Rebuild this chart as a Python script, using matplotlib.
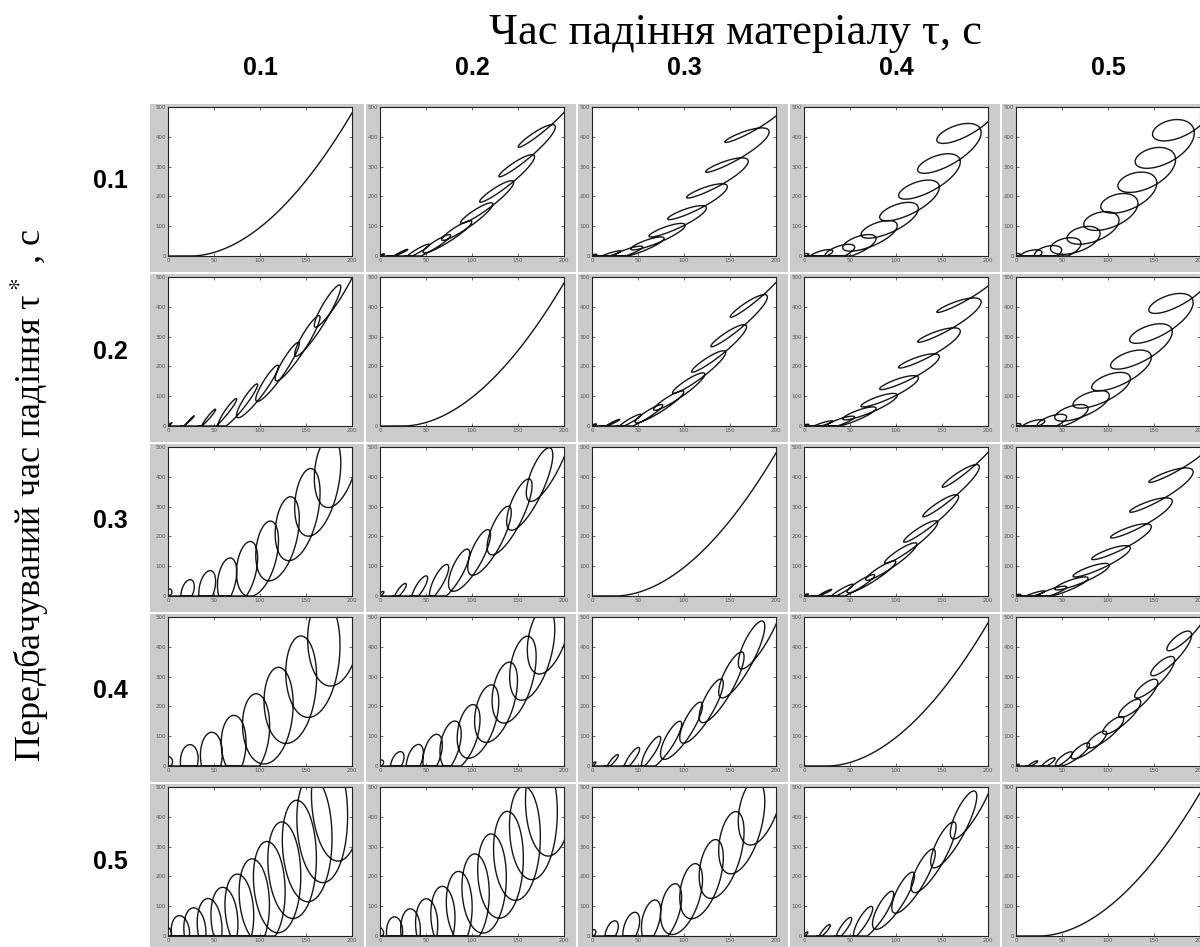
import numpy as np
import matplotlib.pyplot as plt
from matplotlib.patches import Rectangle

# columns: τ (time of fall), rows: τ* (predicted time of fall)
fall_time = ["0.1", "0.2", "0.3", "0.4", "0.5"]
pred_time = ["0.1", "0.2", "0.3", "0.4", "0.5"]

x_ticks = [0, 50, 100, 150, 200]
y_ticks = [0, 100, 200, 300, 400, 500]

# base curve
x_start = 25      # curve leaves y=0 here
y_end = 480       # height reached at x=200
curve_power = 1.9

# loops per panel (row = τ*, col = τ)
n_loops = [
    [0, 9, 9, 9, 10],
    [9, 0, 9, 9, 9],
    [9, 9, 0, 9, 9],
    [8, 10, 9, 0, 11],
    [12, 11, 9, 9, 0],
]
# loop half-width along x and half-height along y at the end of the run,
# as a fraction of the axis range
loop_dx = [
    [0.00, 0.13, 0.15, 0.15, 0.14],
    [0.10, 0.00, 0.13, 0.15, 0.15],
    [0.10, 0.10, 0.00, 0.13, 0.15],
    [0.12, 0.10, 0.10, 0.00, 0.09],
    [0.12, 0.11, 0.10, 0.10, 0.00],
]
loop_dy = [
    [0.00, 0.13, 0.10, 0.12, 0.12],
    [0.20, 0.00, 0.13, 0.10, 0.12],
    [0.30, 0.24, 0.00, 0.13, 0.10],
    [0.36, 0.28, 0.22, 0.00, 0.11],
    [0.42, 0.38, 0.28, 0.22, 0.00],
]
# phase lag of the y swing behind the x swing, degrees
loop_phase = [
    [0, 22, 30, 50, 65],
    [22, 0, 22, 30, 50],
    [70, 40, 0, 22, 30],
    [85, 65, 35, 0, 35],
    [95, 90, 65, 35, 0],
]

W, H = 1200, 947
fig = plt.figure(figsize=(W / 100, H / 100), dpi=100)
plt.rcParams["mathtext.fontset"] = "stix"


def px_axes(left, top, w, h):
    return [left / W, 1 - (top + h) / H, w / W, h / H]


def trajectory(n, dx, dy, phase):
    s = np.linspace(0, 1, 5000)
    u = np.clip((200 * s - x_start) / (200 - x_start), 0, None)
    base_y = y_end * u ** curve_power
    th = 2 * np.pi * n * s
    x = 200 * (s + dx * s ** 0.25 * (np.cos(th) - 0.5))
    y = base_y + 500 * dy * s ** 0.5 * np.cos(th - np.deg2rad(phase))
    return x, np.maximum(y, 0)


cell_w, cell_h = 184, 149
for i in range(5):
    for j in range(5):
        left = 168 + 212 * j
        top = 107 + 170 * i
        gl = left - (18 if j == 0 else 14)
        fig.patches.append(Rectangle(
            (gl / W, 1 - (top + cell_h + 16) / H),
            (left + cell_w + 12 - gl) / W, (cell_h + 19) / H,
            transform=fig.transFigure, facecolor="#cbcbcb",
            edgecolor="none", zorder=-5))
        ax = fig.add_axes(px_axes(left, top, cell_w, cell_h))
        ax.set_zorder(2)
        x, y = trajectory(n_loops[i][j], loop_dx[i][j],
                          loop_dy[i][j], loop_phase[i][j])
        ax.plot(x, y, color="#151515", lw=1.0)
        ax.set_xlim(0, 200)
        ax.set_ylim(0, 500)
        ax.set_xticks(x_ticks)
        ax.set_yticks(y_ticks)
        ax.tick_params(direction="in", length=2.5, width=0.6, top=True,
                       right=True, labelsize=4, pad=1.5, colors="#555555")
        for sp in ax.spines.values():
            sp.set_linewidth(0.8)
            sp.set_color("#222222")

for j, lab in enumerate(fall_time):
    fig.text((168 + 212 * j + cell_w / 2) / W, 1 - 68 / H, lab,
             ha="center", va="center", fontsize=18, fontweight="bold",
             family="Liberation Sans")
for i, lab in enumerate(pred_time):
    fig.text(110 / W, 1 - (107 + 170 * i + cell_h / 2) / H, lab,
             ha="center", va="center", fontsize=18, fontweight="bold",
             family="Liberation Sans")

fig.text(735 / W, 1 - 33 / H, "Час падіння матеріалу τ, с",
         ha="center", va="center", fontsize=32, family="Liberation Serif")
fig.text(30 / W, 1 - 495 / H, "Передбачуваний час падіння τ$^*$ , с",
         ha="center", va="center", rotation=90, fontsize=26,
         family="Liberation Serif")

fig.savefig("out.png", dpi=100)
